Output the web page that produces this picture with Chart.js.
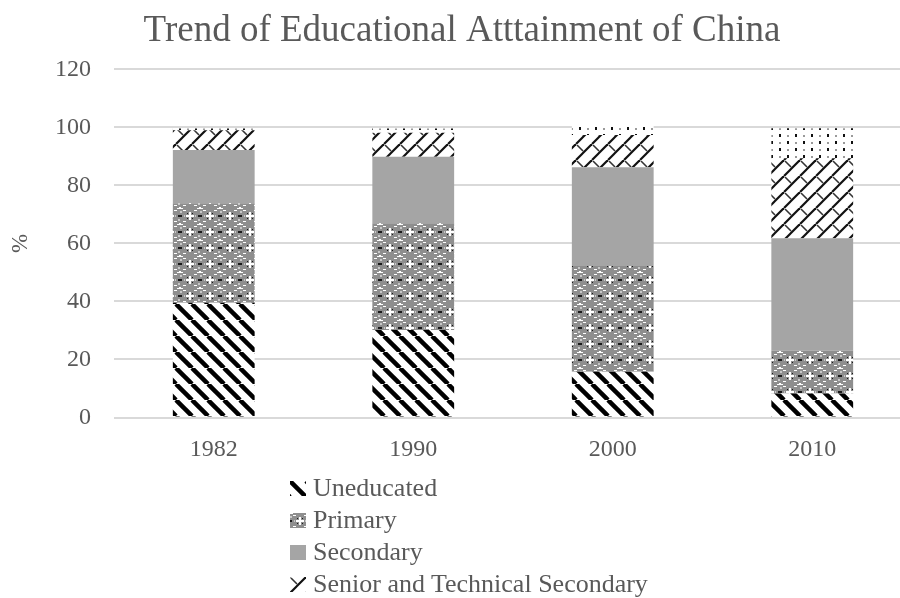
<!DOCTYPE html>
<html>
<head>
<meta charset="utf-8">
<title>Trend of Educational Atttainment of China</title>
<script src="https://cdn.jsdelivr.net/npm/chart.js@4.4.1/dist/chart.umd.min.js"></script>
<style>
  html, body { margin: 0; padding: 0; background: #fff; overflow: hidden; }
  #wrap { position: relative; width: 924px; height: 598px; }
  #legend {
    position: absolute; left: 290px; top: 472px;
    font-family: 'Liberation Serif', 'Times New Roman', serif;
    font-size: 26px; color: #595959;
  }
  .lg-row { display: flex; align-items: center; height: 32px; white-space: nowrap; }
  .lg-row canvas { display: block; margin-right: 7px; }
</style>
</head>
<body>
<div id="wrap">
  <canvas id="chart" width="924" height="598"></canvas>
  <div id="legend"></div>
</div>
<script>
// census years and shares of population by level (%)
const years = ['1982', '1990', '2000', '2010'];
const uneducated = [39.6, 30.2, 15.8, 8.3];
const primary = [34.3, 36.8, 36.4, 14.7];
const secondary = [18.3, 22.9, 34.1, 38.8];
const senior = [6.8, 8.3, 11.1, 27.6];
const college = [0.6, 1.4, 3.8, 10.3];
const seriesNames = ['Uneducated', 'Primary', 'Secondary', 'Senior and Technical Secondary', 'College'];
const yTicks = [0, 20, 40, 60, 80, 100, 120];

const TEXT = '#595959';
const FONT = "'Liberation Serif', 'Times New Roman', serif";

// small tiles used as fills
function tile(w, h, draw) {
  const c = document.createElement('canvas');
  c.width = w; c.height = h;
  const g = c.getContext('2d');
  g.fillStyle = '#fff';
  g.fillRect(0, 0, w, h);
  draw(g, w, h);
  return c;
}

const tiles = {
  // wide downward diagonal
  stripes: tile(16, 16, (g, s) => {
    g.strokeStyle = '#000';
    g.lineWidth = 4.5;
    for (const x0 of [-s, 0, s]) {
      g.beginPath(); g.moveTo(x0, 0); g.lineTo(x0 + s, s); g.stroke();
    }
  }),
  // busy grey weave
  weave: tile(20, 16, (g) => {
    g.fillStyle = '#8e8e8e';
    g.fillRect(0, 0, 20, 16);
    g.fillStyle = '#fff';
    g.fillRect(9, 4, 2, 8);
    g.fillRect(6, 7, 8, 2);
    g.fillRect(0, 0, 3, 1); g.fillRect(17, 0, 3, 1);
    g.fillRect(0, 15, 1, 1); g.fillRect(19, 15, 1, 1);
    g.fillRect(3, 2, 3, 1); g.fillRect(14, 2, 3, 1);
    g.fillRect(3, 13, 3, 1); g.fillRect(14, 13, 3, 1);
    g.fillStyle = '#1a1a1a';
    g.fillRect(7, 5, 1, 1); g.fillRect(12, 5, 1, 1);
    g.fillRect(7, 10, 1, 1); g.fillRect(12, 10, 1, 1);
    g.fillRect(0, 7, 2, 2); g.fillRect(18, 7, 2, 2);
    g.fillStyle = '#c8c8c8';
    g.fillRect(0, 3, 2, 2); g.fillRect(18, 11, 2, 2);
    g.fillRect(4, 7, 1, 2); g.fillRect(15, 7, 1, 2);
  }),
  // shingles along the rising diagonal
  shingle: tile(16, 16, (g, s) => {
    g.strokeStyle = '#111';
    g.lineWidth = 2.2;
    for (const off of [0, s, 2 * s]) {
      g.beginPath(); g.moveTo(off - s, s); g.lineTo(off, 0); g.stroke();
    }
    g.lineWidth = 1.6;
    g.strokeStyle = '#333';
    g.beginPath(); g.moveTo(1, 1); g.lineTo(7, 7); g.stroke();
  }),
  // sparse dots
  dots: tile(16, 14, (g) => {
    g.fillStyle = '#111';
    g.fillRect(3, 1, 2, 3);
    g.fillRect(11, 8, 2, 3);
    g.fillStyle = '#9a9a9a';
    g.fillRect(11, 2, 2, 2);
    g.fillRect(3, 9, 2, 2);
  })
};
const tileFor = [tiles.stripes, tiles.weave, null, tiles.shingle, tiles.dots];

const ctx = document.getElementById('chart').getContext('2d');
const fills = tileFor.map(t => t ? ctx.createPattern(t, 'repeat') : '#a5a5a5');
const seriesData = [uneducated, primary, secondary, senior, college];

new Chart(ctx, {
  type: 'bar',
  data: {
    labels: years,
    datasets: seriesData.map((d, i) => ({
      label: seriesNames[i],
      data: d,
      backgroundColor: fills[i],
      borderWidth: 0,
      categoryPercentage: 1,
      barPercentage: 0.41
    }))
  },
  options: {
    responsive: false,
    animation: false,
    layout: { padding: { left: 12, right: 12, top: 0, bottom: 130.5 } },
    plugins: {
      legend: { display: false },
      tooltip: { enabled: false },
      title: {
        display: true,
        text: 'Trend of Educational Atttainment of China',
        color: TEXT,
        font: { family: FONT, size: 37, weight: 'normal', lineHeight: 1.2 },
        padding: { top: 9, bottom: 16 }
      }
    },
    scales: {
      x: {
        stacked: true,
        grid: { display: false },
        border: { display: false },
        ticks: { color: TEXT, font: { family: FONT, size: 24 }, padding: 10 },
        afterFit: s => { s.height = 50; }
      },
      y: {
        stacked: true,
        min: 0,
        max: 120,
        afterBuildTicks: s => { s.ticks = yTicks.map(v => ({ value: v })); },
        grid: { color: '#d9d9d9', lineWidth: 2, drawTicks: false },
        border: { display: false },
        ticks: { color: TEXT, font: { family: FONT, size: 24 }, padding: 23 },
        title: {
          display: true,
          text: '%',
          color: TEXT,
          font: { family: FONT, size: 23, lineHeight: 1.2 },
          padding: { top: -5, bottom: 0 }
        },
        afterFit: s => { s.width = 102; }
      }
    }
  }
});

// legend rows with swatches that reuse the bar fills
const legend = document.getElementById('legend');
seriesNames.forEach((name, i) => {
  const row = document.createElement('div');
  row.className = 'lg-row';
  const sw = document.createElement('canvas');
  sw.width = 16; sw.height = 15;
  const g = sw.getContext('2d');
  g.fillStyle = tileFor[i] ? g.createPattern(tileFor[i], 'repeat') : fills[i];
  g.fillRect(0, 0, 16, 15);
  const label = document.createElement('span');
  label.textContent = name;
  row.appendChild(sw);
  row.appendChild(label);
  legend.appendChild(row);
});
</script>
</body>
</html>
